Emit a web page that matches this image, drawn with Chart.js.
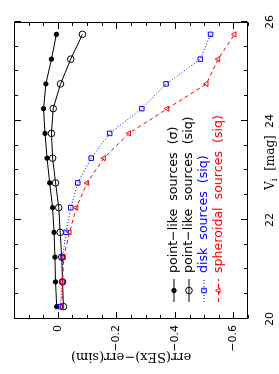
<!DOCTYPE html>
<html>
<head>
<meta charset="utf-8">
<script src="https://cdn.jsdelivr.net/npm/chart.js@4.4.1/dist/chart.umd.min.js"></script>
<style>
  html, body { margin: 0; padding: 0; background: #fff; overflow: hidden; }
  #wrap {
    position: absolute; left: 0; top: 0; width: 374px; height: 279px;
    transform-origin: 0 0;
    transform: translateY(374px) rotate(-90deg);
  }
</style>
</head>
<body>
<div id="wrap"><canvas id="chart" width="374" height="279"></canvas></div>
<script>
// magnitude bins (V_i)
const vMag = [20.25, 20.75, 21.25, 21.75, 22.25, 22.75, 23.25, 23.75, 24.25, 24.75, 25.25, 25.75];

// err(SEx) - err(sim) per source class
const pointSigma = [0.004, 0.008, 0.010, 0.013, 0.018, 0.028, 0.037, 0.044, 0.049, 0.041, 0.022, 0.005];
const pointSiq = [-0.019, -0.016, -0.013, -0.008, -0.003, 0.008, 0.018, 0.022, 0.016, -0.009, -0.044, -0.084];
const diskSiq = [-0.008, -0.015, -0.016, -0.028, -0.044, -0.068, -0.114, -0.177, -0.287, -0.370, -0.487, -0.522];
const spheroidSiq = [-0.014, -0.016, -0.020, -0.040, -0.063, -0.100, -0.157, -0.243, -0.374, -0.508, -0.548, -0.604];

const seriesLabels = [
  "point\u2212like  sources  (\u03c3)",
  "point\u2212like  sources  (siq)",
  "disk  sources  (siq)",
  "spheroidal  sources  (siq)",
];

// axis ticks
const vTicks = [20, 22, 24, 26];
const errTicks = [0, -0.2, -0.4, -0.6];

const toPoints = vals => vals.map((v, i) => ({ x: vMag[i], y: v }));

// frame, inward ticks, tick labels, titles and legend
const decorations = {
  id: "decorations",
  afterDraw(chart) {
    const { ctx, chartArea: a, scales: { x, y } } = chart;
    const L = Math.round(a.left) + 0.5, R = Math.round(a.right) - 0.5;
    const T = Math.round(a.top) + 0.5, B = Math.round(a.bottom) - 0.5;
    ctx.save();
    ctx.strokeStyle = "#000";
    ctx.lineWidth = 1;
    ctx.setLineDash([]);
    ctx.strokeRect(L, T, R - L, B - T);

    ctx.beginPath();
    for (let i = 0; i <= 12; i++) {
      const v = 20 + i * 0.5;
      const len = v % 2 === 0 ? 6.5 : 3.5;
      const px = Math.round(x.getPixelForValue(v)) + 0.5;
      ctx.moveTo(px, B); ctx.lineTo(px, B - len);
      ctx.moveTo(px, T); ctx.lineTo(px, T + len);
    }
    for (let i = 0; i <= 16; i++) {
      const v = -0.65 + i * 0.05;
      const r = v / 0.2;
      const len = Math.abs(r - Math.round(r)) < 1e-6 ? 6.5 : 3.5;
      const py = Math.round(y.getPixelForValue(v)) + 0.5;
      ctx.moveTo(L, py); ctx.lineTo(L + len, py);
      ctx.moveTo(R, py); ctx.lineTo(R - len, py);
    }
    ctx.stroke();

    // tick labels
    ctx.fillStyle = "#000";
    ctx.font = '11px "DejaVu Sans"';
    ctx.textAlign = "right";
    ctx.textBaseline = "middle";
    errTicks.forEach(v => {
      const txt = v === 0 ? "0" : "\u2212" + Math.abs(v).toFixed(1);
      ctx.fillText(txt, a.left - 6, y.getPixelForValue(v));
    });
    ctx.textAlign = "center";
    ctx.textBaseline = "alphabetic";
    vTicks.forEach(v => ctx.fillText(String(v), x.getPixelForValue(v), 272.5));

    // x title, sitting between the tick labels
    ctx.textAlign = "left";
    ctx.font = '12px "DejaVu Serif"';
    let tx = 184;
    ctx.fillText("V", tx, 274);
    tx += ctx.measureText("V").width;
    ctx.font = '9px "DejaVu Serif"';
    ctx.fillText("i", tx, 277);
    tx += ctx.measureText("i").width;
    ctx.font = '12px "DejaVu Serif"';
    ctx.fillText("  [mag]", tx, 274);

    // y title
    ctx.save();
    ctx.translate(18, (a.top + a.bottom) / 2);
    ctx.rotate(-Math.PI / 2);
    ctx.textAlign = "center";
    ctx.textBaseline = "middle";
    ctx.font = '13px "DejaVu Serif"';
    ctx.fillText("err(SEx)\u2212err(sim)", 0, 0);
    ctx.restore();

    // legend
    const rowsY = [174, 189, 204, 218.5];
    chart.data.datasets.forEach((ds, i) => {
      const ly = rowsY[i];
      ctx.strokeStyle = ds.borderColor;
      ctx.lineWidth = 1;
      ctx.setLineDash(ds.borderDash || []);
      ctx.beginPath();
      ctx.moveTo(72, ly); ctx.lineTo(95, ly);
      ctx.stroke();
      ctx.setLineDash([]);
      ctx.fillStyle = ds.pointBackgroundColor;
      ctx.strokeStyle = ds.pointBorderColor;
      Chart.helpers.drawPoint(ctx, {
        pointStyle: ds.pointStyle, radius: ds.pointRadius, rotation: 0, borderWidth: 1,
      }, 83.5, ly);
      ctx.fillStyle = ds.borderColor;
      ctx.font = '12.6px "DejaVu Sans"';
      ctx.textAlign = "left";
      ctx.textBaseline = "middle";
      ctx.fillText(ds.label, 101, ly);
    });
    ctx.restore();
  },
};

new Chart(document.getElementById("chart"), {
  type: "line",
  data: {
    datasets: [
      {
        label: seriesLabels[0],
        data: toPoints(pointSigma),
        borderColor: "#000",
        borderWidth: 1,
        pointStyle: "circle",
        pointRadius: 2.2,
        pointBackgroundColor: "#000",
        pointBorderColor: "#000",
        pointBorderWidth: 1,
        order: 3,
      },
      {
        label: seriesLabels[1],
        data: toPoints(pointSiq),
        borderColor: "#000",
        borderWidth: 1,
        pointStyle: "circle",
        pointRadius: 3.3,
        pointBackgroundColor: "rgba(0,0,0,0)",
        pointBorderColor: "#000",
        pointBorderWidth: 1,
        order: 2,
      },
      {
        label: seriesLabels[2],
        data: toPoints(diskSiq),
        borderColor: "#0000ff",
        borderWidth: 1,
        borderDash: [1, 2],
        pointStyle: "rect",
        pointRadius: 3.2,
        pointBackgroundColor: "rgba(0,0,0,0)",
        pointBorderColor: "#0000ff",
        pointBorderWidth: 1,
        order: 1,
      },
      {
        label: seriesLabels[3],
        data: toPoints(spheroidSiq),
        borderColor: "#ff0000",
        borderWidth: 1,
        borderDash: [4, 3],
        pointStyle: "triangle",
        pointRadius: 3,
        pointBackgroundColor: "rgba(0,0,0,0)",
        pointBorderColor: "#ff0000",
        pointBorderWidth: 1,
        order: 0,
      },
    ],
  },
  options: {
    responsive: false,
    devicePixelRatio: 1,
    animation: false,
    layout: { padding: { left: 55, top: 14, right: 22, bottom: 31 } },
    elements: { line: { tension: 0 } },
    plugins: { legend: { display: false }, tooltip: { enabled: false } },
    scales: {
      x: { type: "linear", min: 20, max: 26, display: false },
      y: { type: "linear", min: -0.65, max: 0.15, display: false },
    },
  },
  plugins: [decorations],
});
</script>
</body>
</html>
